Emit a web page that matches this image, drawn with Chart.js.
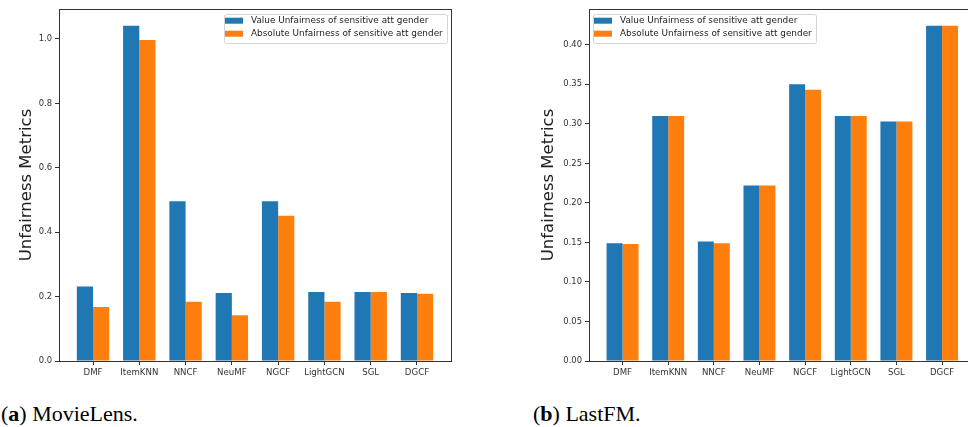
<!DOCTYPE html>
<html>
<head>
<meta charset="utf-8">
<script src="https://cdn.jsdelivr.net/npm/chart.js@4.4.0/dist/chart.umd.min.js"></script>
<style>
  html, body { margin: 0; padding: 0; background: #fff; }
  body { width: 968px; height: 427px; position: relative; overflow: hidden; }
  canvas { position: absolute; top: 0; }
  .legenda {
    position: absolute; top: 401px; line-height: 25px;
    font-family: "Liberation Serif", serif; font-size: 22px; color: #000; white-space: nowrap;
  }
</style>
</head>
<body>
<canvas id="movielens" width="460" height="395" style="left:0"></canvas>
<canvas id="lastfm" width="490" height="395" style="left:500px"></canvas>
<div class="legenda" style="left:1px">(<b>a</b>) MovieLens.</div>
<div class="legenda" style="left:533px">(<b>b</b>) LastFM.</div>

<script>
// modelos avaliados
const categorias = ["DMF", "ItemKNN", "NNCF", "NeuMF", "NGCF", "LightGCN", "SGL", "DGCF"];

const rotuloValor = "Value Unfairness of sensitive att gender";
const rotuloAbsoluto = "Absolute Unfairness of sensitive att gender";

// MovieLens
const movielensValor = [0.231, 1.041, 0.496, 0.211, 0.496, 0.214, 0.214, 0.211];
const movielensAbsoluto = [0.168, 0.997, 0.184, 0.142, 0.451, 0.184, 0.214, 0.209];
const movielensTicks = [0.0, 0.2, 0.4, 0.6, 0.8, 1.0];

// LastFM
const lastfmValor = [0.149, 0.310, 0.151, 0.222, 0.350, 0.310, 0.303, 0.424];
const lastfmAbsoluto = [0.148, 0.310, 0.149, 0.222, 0.343, 0.310, 0.303, 0.424];
const lastfmTicks = [0.00, 0.05, 0.10, 0.15, 0.20, 0.25, 0.30, 0.35, 0.40];

const AZUL = "#1f77b4";
const LARANJA = "#ff7f0e";

Chart.defaults.font.family = "'DejaVu Sans'";
Chart.defaults.animation = false;

// moldura em volta da área do gráfico (os quatro lados)
const molduraPlugin = {
  id: "moldura",
  afterDraw(chart) {
    const { ctx, chartArea: a } = chart;
    ctx.save();
    ctx.strokeStyle = "#333";
    ctx.lineWidth = 1;
    ctx.strokeRect(Math.round(a.left) + 0.5, Math.round(a.top) + 0.5,
      Math.round(a.right - a.left), Math.round(a.bottom - a.top));
    ctx.restore();
  }
};

// legenda desenhada dentro da área do gráfico
const legendaPlugin = {
  id: "legendaInterna",
  afterDraw(chart, args, opts) {
    const { ctx, chartArea: a } = chart;
    const conjuntos = chart.data.datasets;
    ctx.save();
    ctx.font = "8.9px 'DejaVu Sans'";
    const larguraTexto = Math.max(...conjuntos.map(d => ctx.measureText(d.label).width));
    const w = Math.round(larguraTexto + 31);
    const h = 29;
    const x = opts.lado === "direita" ? Math.round(a.right - 4 - w) : Math.round(a.left + 4);
    const y = Math.round(a.top + 5);

    ctx.beginPath();
    ctx.roundRect(x + 0.5, y + 0.5, w, h, 2);
    ctx.fillStyle = "rgba(255,255,255,0.8)";
    ctx.fill();
    ctx.strokeStyle = "#d4d4d4";
    ctx.lineWidth = 1;
    ctx.stroke();

    conjuntos.forEach((d, i) => {
      const cy = y + 6.7 + i * 13;
      ctx.fillStyle = d.backgroundColor;
      ctx.fillRect(x + 1, cy - 3, 18, 6);
      ctx.fillStyle = "#222";
      ctx.textBaseline = "middle";
      ctx.fillText(d.label, x + 27, cy);
    });
    ctx.restore();
  }
};

function criarGrafico(id, valor, absoluto, ticksY, casas, cfg) {
  const ctx = document.getElementById(id).getContext("2d");
  return new Chart(ctx, {
    type: "bar",
    data: {
      datasets: [
        {
          label: rotuloValor,
          data: valor.map((v, i) => ({ x: i, y: v })),
          backgroundColor: AZUL,
          borderWidth: 0,
        },
        {
          label: rotuloAbsoluto,
          data: absoluto.map((v, i) => ({ x: i, y: v })),
          backgroundColor: LARANJA,
          borderWidth: 0,
        },
      ],
    },
    options: {
      responsive: false,
      devicePixelRatio: 1,
      categoryPercentage: 0.7,
      barPercentage: 1.0,
      layout: { padding: { top: 9, right: cfg.direita, left: 0, bottom: 0 } },
      plugins: {
        legend: { display: false },
        tooltip: { enabled: false },
        legendaInterna: { lado: cfg.ladoLegenda },
      },
      scales: {
        x: {
          type: "linear",
          offset: false,
          min: -0.735,
          max: categorias.length - 1 + 0.735,
          afterBuildTicks: s => { s.ticks = categorias.map((c, i) => ({ value: i })); },
          afterFit: s => { s.height = 34; },
          ticks: {
            callback: v => categorias[v],
            autoSkip: false,
            maxRotation: 0,
            padding: 3,
            color: "#333",
            font: { size: 8.6 },
          },
          grid: { offset: false, drawOnChartArea: false, tickLength: 4, color: "#333" },
          border: { display: false },
        },
        y: {
          min: 0,
          max: Math.max(...valor, ...absoluto) * 1.05,
          afterBuildTicks: s => { s.ticks = ticksY.map(v => ({ value: v })); },
          afterFit: s => { s.width = cfg.larguraY; },
          ticks: {
            callback: v => v.toFixed(casas),
            padding: 3,
            color: "#333",
            font: { size: 8.4 },
          },
          grid: { drawOnChartArea: false, tickLength: 4, color: "#333" },
          border: { display: false },
          title: {
            display: true,
            text: "Unfairness Metrics",
            color: "#222",
            font: { size: 16.5 },
            padding: { top: cfg.tituloY, bottom: 0 },
          },
        },
      },
    },
    plugins: [molduraPlugin, legendaPlugin],
  });
}

criarGrafico("movielens", movielensValor, movielensAbsoluto, movielensTicks, 1,
  { larguraY: 59, tituloY: 17, direita: 9, ladoLegenda: "direita" });
criarGrafico("lastfm", lastfmValor, lastfmAbsoluto, lastfmTicks, 2,
  { larguraY: 89, tituloY: 39, direita: 14.4, ladoLegenda: "esquerda" });
</script>
</body>
</html>
